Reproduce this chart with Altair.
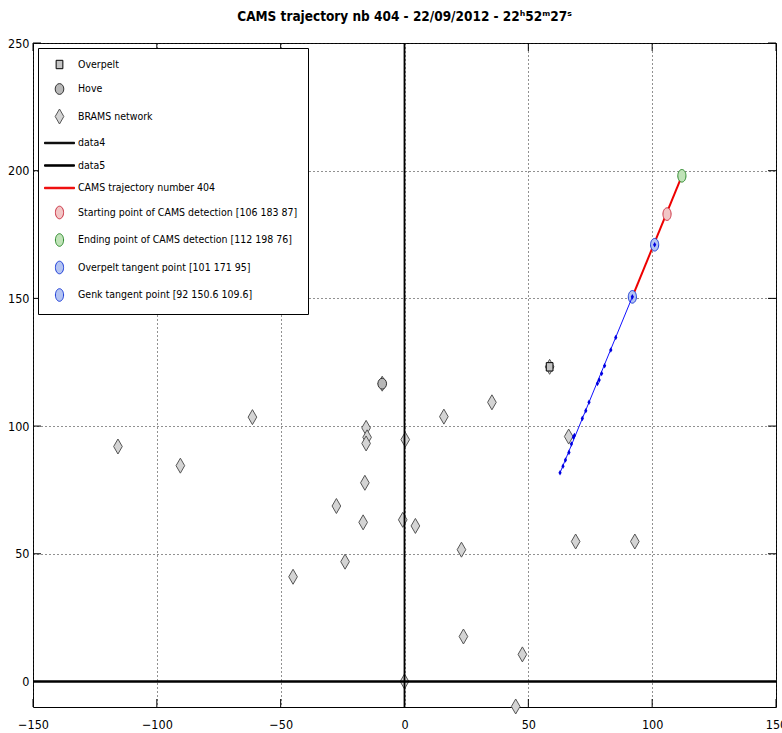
import altair as alt
import pandas as pd

FONT = "Liberation Sans Narrow, DejaVu Sans Condensed, Arial Narrow, sans-serif"

# ---- data ----
series_names = [
    "Overpelt", "Hove", "BRAMS network", "data4", "data5",
    "CAMS trajectory number 404",
    "Starting point of CAMS detection [106 183 87]",
    "Ending point of CAMS detection [112 198 76]",
    "Overpelt tangent point [101 171 95]",
    "Genk tangent point [92 150.6 109.6]",
]
fill_colors = ["#c4c4c4", "#b8b8b8", "#d4d4d4", "#000000", "#000000", "#ee0000",
               "#f2c6c6", "#c0e3b8", "#b4c4f2", "#b4c4f2"]
stroke_colors = ["#000000", "#333333", "#555555", "#000000", "#000000", "#ee0000",
                 "#cc3344", "#2e8b2e", "#1f3fd8", "#1f3fd8"]
SQUARE = "M-0.56,-0.7L0.56,-0.7L0.56,0.7L-0.56,0.7Z"
HOVE_CIRC = "M0,-0.9A0.72,0.9,0,1,1,0,0.9A0.72,0.9,0,1,1,0,-0.9Z"
DIAMOND = "M0,-1.25L0.72,0L0,1.25L-0.72,0Z"
LINE = "M-2.5,-0.12L2.5,-0.12L2.5,0.12L-2.5,0.12Z"
ELLIPSE = "M0,-1.05A0.68,1.05,0,1,1,0,1.05A0.68,1.05,0,1,1,0,-1.05Z"
shapes = [SQUARE, HOVE_CIRC, DIAMOND, LINE, LINE, LINE, ELLIPSE, ELLIPSE, ELLIPSE, ELLIPSE]

overpelt_x, overpelt_y = [58.6], [123.2]
hove_x, hove_y = [-9.0], [116.6]
brams_x = [-115.7, -90.5, -61.4, -45.0, -27.5, -24.0, -16.0, -16.7, -15.5, -15.1, -15.5,
           0.3, -0.7, 4.4, 15.9, 35.3, 23.0, 23.8, 47.6, 0.0, 44.9, 69.1, 93.0, 66.3,
           -9.0, 58.6]
brams_y = [92.0, 84.5, 103.5, 41.0, 68.7, 46.9, 77.8, 62.3, 99.3, 95.6, 93.2,
           94.7, 63.3, 60.9, 103.7, 109.3, 51.6, 17.6, 10.6, 0.0, -9.8, 54.8, 54.8, 95.9,
           116.6, 123.2]

data4_x, data4_y = [-150, 150], [0, 0]
data5_x, data5_y = [0, 0], [-10, 250]
traj_x, traj_y = [92.0, 112.0], [150.6, 198.0]
cams_pts_x = [106.0, 112.0, 101.0, 92.0]
cams_pts_y = [183.0, 198.0, 171.0, 150.6]

blue_line_x, blue_line_y = [62.8, 92.0], [81.7, 150.6]
blue_dots_x = [62.8, 64.0, 65.0, 66.4, 67.4, 68.2, 68.6, 71.8, 73.2, 74.5,
               77.9, 78.6, 79.6, 80.8, 83.3, 85.3, 92.0, 101.0]
blue_dots_y = [81.7, 84.3, 86.7, 89.7, 93.0, 95.6, 96.3, 103.0, 106.0, 109.3,
               116.7, 118.0, 120.6, 123.6, 129.8, 134.7, 150.6, 171.0]

x_ticks = [-150, -100, -50, 0, 50, 100, 150]
y_ticks = [0, 50, 100, 150, 200, 250]

# ---- tables ----
stations = pd.DataFrame({
    "x": overpelt_x + hove_x + brams_x,
    "y": overpelt_y + hove_y + brams_y,
    "series": [series_names[0]] * len(overpelt_x) + [series_names[1]] * len(hove_x)
              + [series_names[2]] * len(brams_x),
})
stations["order"] = [2, 1] + [0] * len(brams_x)
cams_pts = pd.DataFrame({"x": cams_pts_x, "y": cams_pts_y, "series": series_names[6:10]})
legend_only = pd.DataFrame({"x": [0, 0, 0], "y": [0, 0, 0], "series": series_names[3:6]})
lines = pd.DataFrame({
    "x": data4_x + data5_x + traj_x,
    "y": data4_y + data5_y + traj_y,
    "series": ["data4"] * 2 + ["data5"] * 2 + ["traj"] * 2,
})
blue_line = pd.DataFrame({"x": blue_line_x, "y": blue_line_y})
blue_dots = pd.DataFrame({"x": blue_dots_x, "y": blue_dots_y})
xt = pd.DataFrame({"x": x_ticks})
yt = pd.DataFrame({"y": y_ticks})

W, H = 743, 664
xscale = alt.Scale(domain=[-150, 150], nice=False, zero=False)
yscale = alt.Scale(domain=[-10, 250], nice=False, zero=False)
GRID = dict(grid=True, gridDash=[1, 3], gridColor="#222222", gridWidth=1, gridOpacity=1,
            ticks=False, domain=False, title=None, labelOverlap=False,
            labelFont=FONT, labelFontSize=12.5, labelColor="black")
X = alt.X("x:Q", scale=xscale,
          axis=alt.Axis(values=x_ticks, labelPadding=11, labelFlush=False, **GRID))
Y = alt.Y("y:Q", scale=yscale,
          axis=alt.Axis(values=y_ticks, labelPadding=4, **GRID))

LEG = dict(title=None, orient="none", legendX=5, legendY=5, padding=10,
           strokeColor="black", fillColor="white", cornerRadius=0,
           symbolSize=144, symbolStrokeWidth=1, symbolOffset=5, symbolOpacity=1,
           labelOffset=12, labelFont=FONT, labelFontSize=10.5, labelColor="black",
           labelLimit=400, rowPadding=10.5)
enc_common = dict(
    fill=alt.Fill("series:N", scale=alt.Scale(domain=series_names, range=fill_colors),
                  legend=alt.Legend(**LEG)),
    stroke=alt.Stroke("series:N", scale=alt.Scale(domain=series_names, range=stroke_colors),
                      legend=alt.Legend(**LEG)),
    shape=alt.Shape("series:N", scale=alt.Scale(domain=series_names, range=shapes),
                    legend=alt.Legend(**LEG)),
)

legend_layer = alt.Chart(legend_only).mark_point(size=144, opacity=0, filled=True).encode(
    x=X, y=Y, **enc_common)
st_layer = alt.Chart(stations).mark_point(size=144, opacity=1, filled=True, strokeWidth=1).encode(
    x=X, y=Y, order=alt.Order("order:Q"), **enc_common)

d4 = alt.Chart(lines).transform_filter(alt.datum.series == "data4").mark_line(
    color="black", strokeWidth=2.6, clip=True).encode(x=X, y=Y)
d5 = alt.Chart(lines).transform_filter(alt.datum.series == "data5").mark_line(
    color="black", strokeWidth=1.8, clip=True).encode(x=X, y=Y)
trj = alt.Chart(lines).transform_filter(alt.datum.series == "traj").mark_line(
    color="#ee0000", strokeWidth=2).encode(x=X, y=Y)
cams_layer = alt.Chart(cams_pts).mark_point(size=144, opacity=1, filled=True, strokeWidth=1).encode(
    x=X, y=Y, **enc_common)
bl = alt.Chart(blue_line).mark_line(color="#1010ff", strokeWidth=1).encode(x=X, y=Y)
bd = alt.Chart(blue_dots).mark_point(size=20, opacity=1, filled=True, shape=DIAMOND,
                                     color="#0000e0").encode(x=X, y=Y)

TL = 8
tick_b = alt.Chart(xt).mark_rule(color="black").encode(
    x=X, y=alt.value(H), y2=alt.value(H - TL))
tick_t = alt.Chart(xt).mark_rule(color="black").encode(
    x=X, y=alt.value(0), y2=alt.value(TL))
tick_l = alt.Chart(yt).mark_rule(color="black").encode(
    y=Y, x=alt.value(0), x2=alt.value(TL))
tick_r = alt.Chart(yt).mark_rule(color="black").encode(
    y=Y, x=alt.value(W), x2=alt.value(W - TL))

title_text = "CAMS trajectory nb 404 - 22/09/2012 - 22\u02b052\u1d5027\u02e2"

chart = alt.layer(
    legend_layer, st_layer, d4, d5, trj, cams_layer, bl, bd,
    tick_b, tick_t, tick_l, tick_r,
).properties(
    width=W, height=H,
    background="white",
    autosize=alt.AutoSizeParams(type="none"),
    padding={"left": 33, "top": 43, "right": 6, "bottom": 26},
    title=alt.TitleParams(title_text, font=FONT, fontSize=13.5, fontWeight="bold",
                          color="black", anchor="middle", offset=14),
).configure_view(
    stroke="black", strokeWidth=1, fill="white",
)

chart.save("out.html", embed_options={"renderer": "svg", "actions": False})
